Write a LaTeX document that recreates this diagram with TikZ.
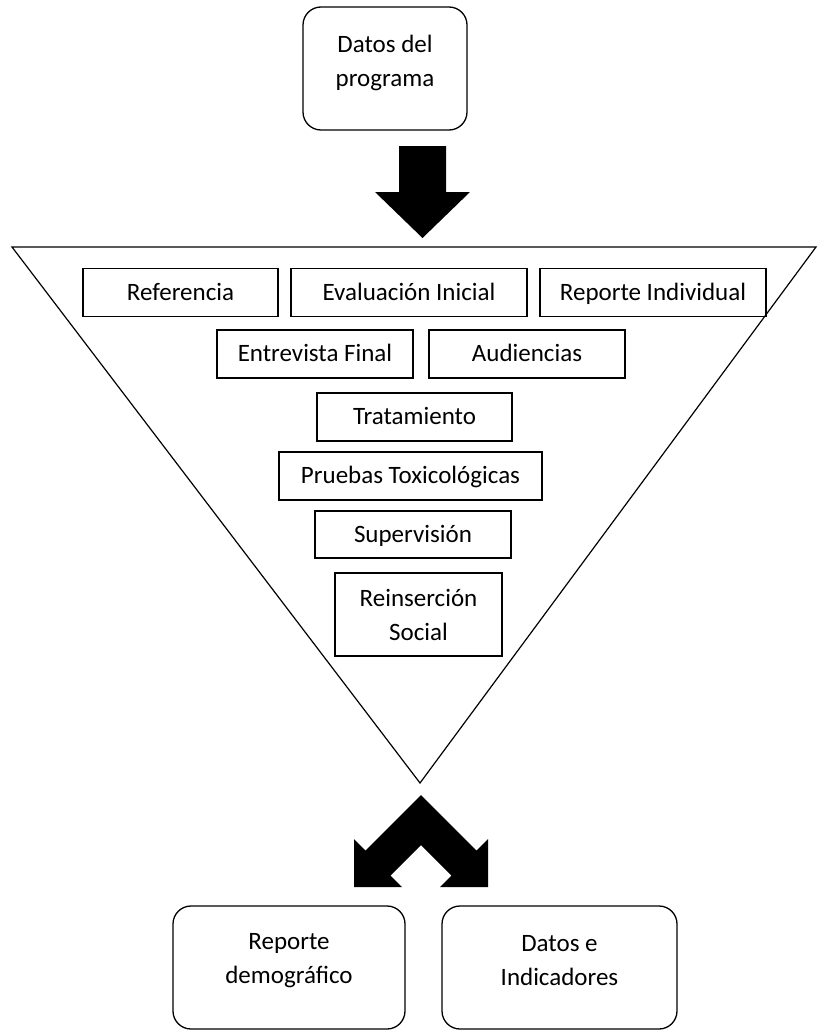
\documentclass[tikz,border=0pt]{standalone}
\usepackage{fontspec}
\setmainfont{Carlito}
\begin{document}
\begin{tikzpicture}[x=1pt, y=-1pt,
    box/.style={draw, line width=1.3pt, minimum height=48pt, inner sep=0pt, text height=17pt, text depth=2pt},
    tallbox/.style={draw, line width=1.3pt, inner sep=0pt, align=center},
    roundbox/.style={draw, line width=1.3pt, rounded corners=18pt, minimum width=233pt, minimum height=123pt, inner sep=0pt},
    every node/.style={font=\fontsize{25}{34}\selectfont}]
    \useasboundingbox (0, 0) rectangle (817, 1030);

    % Input
    \node[roundbox, minimum width=164pt] (prog) at (385, 68.5) {};
    \node[align=center] (progtext) at ([yshift=6pt]prog.center) {Datos del\\programa};
    \fill (399, 146) -- (446, 146) -- (446, 192) -- (470, 192) -- (422.5, 238) -- (375, 192) -- (399, 192) -- cycle;

    % Funnel
    \draw[line width=1.2pt] (12, 247) -- (816, 247) -- (420, 783) -- cycle;

    % Stages
    \node[box, minimum width=195pt] (ref) at (180.5, 292.5) {Referencia};
    \node[box, minimum width=236pt] (eval) at (409, 292.5) {Evaluación Inicial};
    \node[box, minimum width=226pt] (rep) at (653, 292.5) {Reporte Individual};
    \node[box, minimum width=196pt] (entr) at (315, 354) {Entrevista Final};
    \node[box, minimum width=196pt] (aud) at (527, 354) {Audiencias};
    \node[box, minimum width=195pt] (trat) at (414.5, 417) {Tratamiento};
    \node[box, minimum width=263pt] (prue) at (410.5, 476) {Pruebas Toxicológicas};
    \node[box, minimum width=196pt, minimum height=47pt] (sup) at (413, 534.5) {Supervisión};
    \node[tallbox, minimum width=167pt, minimum height=83pt] (rein) at (418.5, 614.5) {Reinserción\\Social};

    % Output
    \fill (421, 795) -- (476.5, 850.5) -- (488, 839) -- (488, 887) -- (440, 887) -- (451.5, 875.5)
        -- (421, 845) -- (390.5, 875.5) -- (402, 887) -- (354, 887) -- (354, 839) -- (365.5, 850.5) -- cycle;
    \node[roundbox, minimum width=232pt] (demo) at (289, 967.5) {};
    \node[align=center] (demotext) at ([yshift=7pt]demo.center) {Reporte\\demográfico};
    \node[roundbox, minimum width=235pt] (ind) at (559.5, 967.5) {};
    \node[align=center] (indtext) at ([yshift=7pt]ind.center) {Datos e\\Indicadores};

\end{tikzpicture}
\end{document}
